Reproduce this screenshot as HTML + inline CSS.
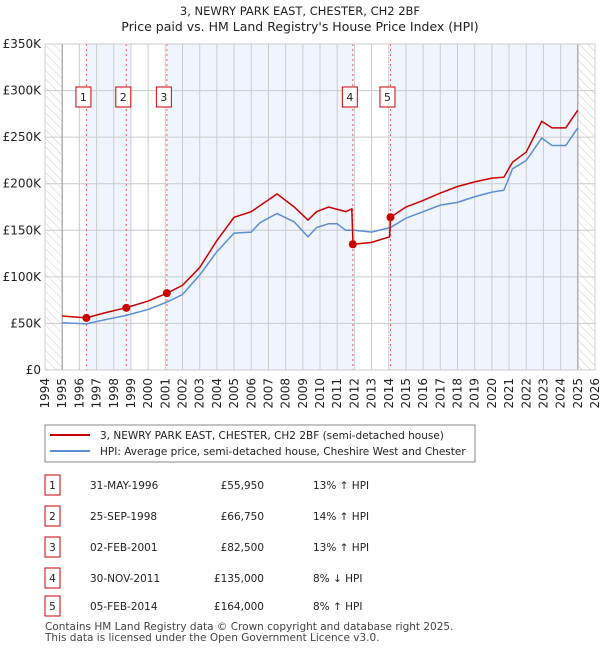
<!DOCTYPE html>
<html><head><meta charset="utf-8"><style>
body{margin:0;background:#fff;font-family:"DejaVu Sans","Liberation Sans",sans-serif;}
svg text{font-family:"DejaVu Sans","Liberation Sans",sans-serif;}
</style></head><body>
<svg id="c" width="600" height="650" viewBox="0 0 600 650" xmlns="http://www.w3.org/2000/svg">
<defs><pattern id="hatch" width="6" height="6" patternUnits="userSpaceOnUse" patternTransform="rotate(-45)"><line x1="0" y1="0" x2="0" y2="6" stroke="#ccc" stroke-width="1"/></pattern></defs>
<text x="300" y="15" font-size="11.5" text-anchor="middle" fill="#222">3, NEWRY PARK EAST, CHESTER, CH2 2BF</text>
<text x="300" y="31" font-size="12.5" text-anchor="middle" fill="#222">Price paid vs. HM Land Registry's House Price Index (HPI)</text>
<g id="plot"></g>
<rect x="45" y="425" width="430" height="37" fill="none" stroke="#888"/>
<line x1="50" y1="435" x2="90" y2="435" stroke="#cc0000" stroke-width="2"/>
<text x="100" y="439" font-size="10.5" fill="#222">3, NEWRY PARK EAST, CHESTER, CH2 2BF (semi-detached house)</text>
<line x1="50" y1="451" x2="90" y2="451" stroke="#5b8fd4" stroke-width="2"/>
<text x="100" y="455" font-size="10.5" fill="#222">HPI: Average price, semi-detached house, Cheshire West and Chester</text>
<g id="table"></g>
<text x="45" y="630" font-size="10.5" fill="#444">Contains HM Land Registry data © Crown copyright and database right 2025.</text>
<text x="45" y="641" font-size="10.5" fill="#444">This data is licensed under the Open Government Licence v3.0.</text>
</svg>
<script>
const hpiYears=[1995,1996.4,1997.5,1998.7,2000,2001.1,2002,2003,2004,2005,2006,2006.5,2007.5,2008.5,2009.3,2009.8,2010.5,2011,2011.5,2012,2013,2014.1,2015,2016,2017,2018,2019,2020,2020.7,2021.2,2022,2022.9,2023.5,2024.3,2025];
const hpiValues=[50700,49500,54000,58500,65000,73000,81000,102000,127000,147000,148000,158000,168000,159000,143000,153000,157000,157000,150000,150000,148000,153000,163000,170000,177000,180000,186000,191000,193000,216000,225000,249000,241000,241000,260000];
const priceYears=[1995,1996.4,1997.5,1998.7,2000,2001.1,2002,2003,2004,2005,2006,2007.5,2008.5,2009.3,2009.8,2010.5,2011.5,2011.85,2011.92,2013,2014.05,2014.1,2015,2016,2017,2018,2019,2020,2020.7,2021.2,2022,2022.9,2023.5,2024.3,2025];
const priceValues=[58000,55950,61500,66750,74000,82500,91000,110000,139000,164000,170000,189000,175000,161000,170000,175000,170000,173000,135000,137000,143000,164000,175000,182000,190000,197000,202000,206000,207000,223000,234000,267000,260000,260000,279000];
const saleLabels=["1","2","3","4","5"];
const saleDates=["31-MAY-1996","25-SEP-1998","02-FEB-2001","30-NOV-2011","05-FEB-2014"];
const saleYears=[1996.41,1998.73,2001.09,2011.91,2014.1];
const salePrices=[55950,66750,82500,135000,164000];
const salePriceText=["£55,950","£66,750","£82,500","£135,000","£164,000"];
const saleHpiText=["13% ↑ HPI","14% ↑ HPI","13% ↑ HPI","8% ↓ HPI","8% ↑ HPI"];
const yTicks=[0,50000,100000,150000,200000,250000,300000,350000];
const yTickLabels=["£0","£50K","£100K","£150K","£200K","£250K","£300K","£350K"];
const xStart=1994,xEnd=2026,dataStart=1995,dataEnd=2025;

const NS="http://www.w3.org/2000/svg";
const L=45,R=595,T=44,B=370;
const X=y=>L+(y-xStart)/(xEnd-xStart)*(R-L);
const Y=v=>B-v/350000*(B-T);
function mk(tag,attrs,parent){const e=document.createElementNS(NS,tag);for(const k in attrs)e.setAttribute(k,attrs[k]);parent.appendChild(e);return e;}
const g=document.getElementById('plot');
let bg=mk('rect',{x:L,y:T,width:R-L,height:B-T,fill:'#fff'},g);


const bandStarts=[saleYears[0],saleYears[2],saleYears[4]];
const bandEnds=[1999,saleYears[3],dataEnd];
for(let i=0;i<bandStarts.length;i++){
 let b=mk('rect',{x:X(bandStarts[i]),y:T,width:X(bandEnds[i])-X(bandStarts[i]),height:B-T,fill:'#f0f4fc'},g);
 
 
}
let h1=mk('rect',{x:L,y:T,width:X(dataStart)-L,height:B-T,fill:'url(#hatch)'},g);


let h2=mk('rect',{x:X(dataEnd),y:T,width:R-X(dataEnd),height:B-T,fill:'url(#hatch)'},g);


for(let yr=xStart;yr<=xEnd;yr++){
 let l=mk('line',{x1:X(yr),x2:X(yr),y1:T,y2:B,stroke:'#ccc','stroke-width':1},g);
 
 
 let t=mk('text',{x:0,y:0,'font-size':12,fill:'#222','text-anchor':'end',transform:`translate(${X(yr)+4},378) rotate(-90)`},g);
 t.textContent=yr;
 
 
}
yTicks.forEach((v,i)=>{
 let l=mk('line',{x1:L,x2:R,y1:Y(v),y2:Y(v),stroke:'#ccc','stroke-width':1},g);
 
 
 let t=mk('text',{x:L-4,y:Y(v)+4,'font-size':12,fill:'#222','text-anchor':'end'},g);
 t.textContent=yTickLabels[i];
 
 
});
let ax1=mk('line',{x1:X(dataStart),x2:X(dataStart),y1:T,y2:B,stroke:'#999'},g);


let ax2=mk('line',{x1:X(dataEnd),x2:X(dataEnd),y1:T,y2:B,stroke:'#999'},g);


saleYears.forEach((yr,i)=>{
 let l=mk('line',{x1:X(yr),x2:X(yr),y1:T,y2:B,stroke:'#e06060','stroke-dasharray':'2,3'},g);
 
 
});
let hp=mk('polyline',{points:hpiYears.map((y,i)=>X(y)+','+Y(hpiValues[i])).join(' '),fill:'none',stroke:'#5b8fd4','stroke-width':1.5},g);


let pp=mk('polyline',{points:priceYears.map((y,i)=>X(y)+','+Y(priceValues[i])).join(' '),fill:'none',stroke:'#cc0000','stroke-width':1.5},g);


saleYears.forEach((yr,i)=>{
 let c=mk('circle',{cx:X(yr),cy:Y(salePrices[i]),r:4,fill:'#cc0000'},g);
 
 
 let r=mk('rect',{x:X(yr)-10.5,y:87,width:15,height:20,fill:'#fff',stroke:'#cc0000'},g);
 
 
 let t=mk('text',{x:X(yr)-3,y:101,'font-size':11,fill:'#222','text-anchor':'middle'},g);
 t.textContent=saleLabels[i];
 
 
});
let fr=mk('rect',{x:L,y:T,width:R-L,height:B-T,fill:'none',stroke:'#ccc'},g);


const tb=document.getElementById('table');
const rowY=[484,515,546,577,605];
saleLabels.forEach((s,i)=>{
 const y=rowY[i];
 let r=mk('rect',{x:45,y:y-9,width:15,height:20,fill:'#fff',stroke:'#cc0000'},tb);
 
 
 const cells=[[52.5,s,'middle'],[90,saleDates[i],'start'],[264,salePriceText[i],'end'],[313,saleHpiText[i],'start']];
 cells.forEach(c=>{
  let t=mk('text',{x:c[0],y:y+5,'font-size':10.5,fill:'#222','text-anchor':c[2]},tb);
  t.textContent=c[1];
  
  
 });
});
</script>
</body></html>
